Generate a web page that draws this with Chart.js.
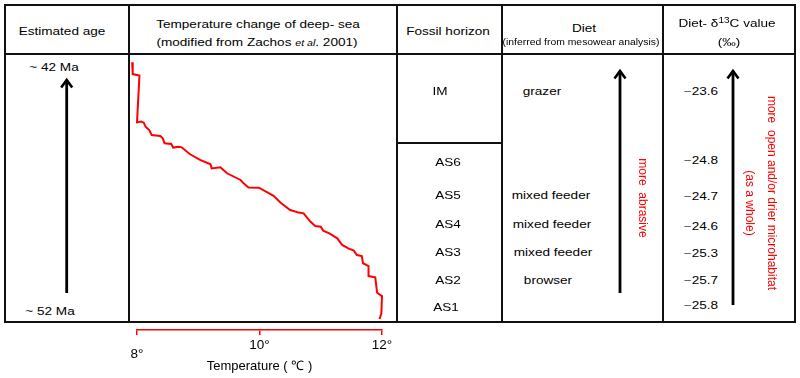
<!DOCTYPE html>
<html>
<head>
<meta charset="utf-8">
<title>Estimated age, deep-sea temperature, diet and δ13C</title>
<script src="https://cdn.jsdelivr.net/npm/chart.js@4.4.0/dist/chart.umd.min.js"></script>
<style>
  html, body { margin: 0; padding: 0; background: #fff; }
  body { width: 800px; height: 378px; position: relative; overflow: hidden;
         font-family: "Liberation Sans", Arial, sans-serif; color: #000; }
  .ln { position: absolute; background: #111; }
  .t { position: absolute; white-space: pre; font-size: 11.5px; line-height: 1;
       transform: translate(-50%, -50%) scaleX(1.18); }
  .small { font-size: 8.8px; }
  .v { position: absolute; white-space: pre; font-size: 12px; line-height: 1; color: #ff0000;
       transform: translate(-50%, -50%) rotate(90deg); }
  .neg { color: #555; }
  #caja { position: absolute; left: 117px; top: 55px; width: 285px; height: 323px; }
  svg { position: absolute; left: 0; top: 0; }
</style>
</head>
<body>
<svg width="800" height="378" id="flechas"></svg>
<div id="caja"><canvas id="graficaTemp"></canvas></div>
<script>
// table contents
const ageLabels = ['~ 42 Ma', '~ 52 Ma'];
const horizons = ['IM', 'AS6', 'AS5', 'AS4', 'AS3', 'AS2', 'AS1'];
const diets = ['grazer', '', 'mixed feeder', 'mixed feeder', 'mixed feeder', 'browser', ''];
const d13C = [-23.6, -24.8, -24.7, -24.6, -25.3, -25.7, -25.8];

// deep-sea temperature curve (age in Ma, temperature in °C)
const ageMa = [42.01, 42.47, 42.53, 44.35, 44.32, 44.36, 44.52, 44.65, 44.84, 44.88,
  44.97, 45.16, 45.19, 45.33, 45.30, 45.32, 45.58, 45.81, 45.98, 46.14,
  46.10, 46.33, 46.59, 46.72, 46.88, 46.89, 47.21, 47.47, 47.76, 47.86,
  47.89, 48.21, 48.38, 48.41, 48.56, 48.67, 48.86, 49.12, 49.25, 49.34,
  49.51, 49.55, 49.83, 49.94, 50.33, 50.38, 50.98, 51.11, 51.78, 52.00];
const tempC = [7.92, 7.93, 8.04, 8.00, 8.07, 8.11, 8.14, 8.20, 8.24, 8.38,
  8.42, 8.45, 8.56, 8.59, 8.68, 8.73, 8.86, 9.03, 9.20, 9.22,
  9.36, 9.47, 9.69, 9.74, 9.82, 9.99, 10.23, 10.34, 10.50, 10.64,
  10.72, 10.83, 10.91, 11.00, 11.04, 11.14, 11.27, 11.35, 11.45, 11.54,
  11.59, 11.67, 11.69, 11.78, 11.78, 11.89, 11.92, 12.00, 11.99, 11.96];
const tempTicks = [8, 10, 12];

// layout of the table (pixels)
const rowY = [91.7, 163.3, 196, 225, 252.7, 280.7, 308.3];
const horizonX = [440, 447.5, 447.5, 447.5, 447.5, 447.5, 446];
const dietX = [542, 0, 551, 551.5, 553, 548, 0];
const d13CY = [91.7, 161, 196.7, 226.7, 254.3, 281, 305.7];

function linea(x, y, w, h) {
    const d = document.createElement('div');
    d.className = 'ln';
    d.style.cssText = `left:${x}px;top:${y}px;width:${w}px;height:${h}px`;
    document.body.appendChild(d);
}

function texto(html, x, y, cls) {
    const d = document.createElement('div');
    d.className = cls || 't';
    d.innerHTML = html;
    d.style.left = x + 'px';
    d.style.top = y + 'px';
    document.body.appendChild(d);
    return d;
}

// table frame
linea(4, 4, 792, 2);
linea(4, 321, 792, 2);
linea(4, 4, 2, 319);
linea(794, 4, 2, 319);
linea(4, 53, 792, 2);
[128, 396, 501, 662].forEach(x => linea(x, 4, 2, 319));
linea(396, 142, 107, 2);

// header
texto('Estimated age', 62, 32);
texto('Temperature change of deep- sea', 258, 24.5);
texto('(modified from Zachos <i style="font-size:9px">et al</i>. 2001)', 257, 43);
texto('Fossil horizon', 448, 32);
texto('Diet', 584, 28.7);
texto('(inferred from mesowear analysis)', 581, 41.7, 't small');
texto('Diet- δ<span style="font-size:8.5px;position:relative;top:-4px">13</span>C value', 727, 24);
texto('(‰)', 729, 43);

// body
texto(ageLabels[0], 53.5, 68);
texto(ageLabels[1], 50, 311.7);
horizons.forEach((h, i) => texto(h, horizonX[i], rowY[i]));
diets.forEach((d, i) => { if (d) texto(d, dietX[i], rowY[i]); });
d13C.forEach((v, i) => texto('<span class="neg">−</span>' + Math.abs(v).toFixed(1), 701, d13CY[i]));
texto('more  abrasive', 643, 197.5, 'v');
texto('more  open and/or drier microhabitat', 772, 193.3, 'v');
texto('(as a whole)', 750, 203, 'v');

// arrows
const svg = document.getElementById('flechas');
function flecha(x, y1, y2) {
    svg.innerHTML += `<line x1="${x}" y1="${y1}" x2="${x}" y2="${y2 + 1}" stroke="#000" stroke-width="2.8"/>` +
        `<polyline points="${x - 5.5},${y2 + 8.5} ${x},${y2 + 1} ${x + 5.5},${y2 + 8.5}" fill="none" stroke="#000" stroke-width="2.6"/>`;
}
flecha(66.7, 293, 79);
flecha(620, 293, 70);
flecha(733, 305, 70);

// temperature curve
Chart.defaults.font.family = '"Liberation Sans", Arial, sans-serif';
Chart.defaults.color = '#000';

new Chart(document.getElementById('graficaTemp'), {
    type: 'line',
    data: {
        datasets: [{
            data: ageMa.map((a, i) => ({ x: tempC[i], y: a })),
            borderColor: '#ff0000',
            borderWidth: 2,
            pointRadius: 0,
            tension: 0,
            fill: false,
            clip: false
        }]
    },
    options: {
        responsive: true,
        maintainAspectRatio: false,
        animation: false,
        layout: { padding: { left: 20, right: 20, top: 0, bottom: 0 } },
        plugins: { legend: { display: false }, tooltip: { enabled: false } },
        scales: {
            x: {
                type: 'linear',
                min: 8,
                max: 12,
                afterBuildTicks: s => { s.ticks = tempTicks.map(v => ({ value: v })); },
                afterFit: s => { s.height = 48; },
                border: { display: true, color: '#ff0000', width: 1.5 },
                grid: { drawOnChartArea: false, drawTicks: true, tickLength: 5, color: '#ff0000', lineWidth: 1.5 },
                ticks: {
                    padding: 2,
                    color: '#000',
                    font: ctx => ctx.index === 0 ? { size: 13.5, lineHeight: '11.3px' } : { size: 13.5 },
                    callback: (v, i) => i === 0 ? ['', v + '°'] : v + '°'
                },
                title: {
                    display: true,
                    text: 'Temperature ( ℃ )',
                    color: '#000',
                    font: { size: 13 },
                    padding: { top: 0, bottom: 4 }
                }
            },
            y: { type: 'linear', display: false, reverse: true, min: 41.7276, max: 52.428 }
        }
    }
});
</script>
</body>
</html>
